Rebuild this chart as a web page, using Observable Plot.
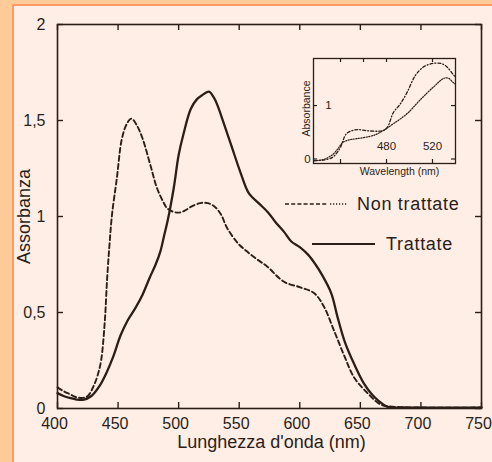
<!DOCTYPE html>
<html>
<head>
<meta charset="utf-8">
<script src="https://cdn.jsdelivr.net/npm/d3@7"></script>
<script src="https://cdn.jsdelivr.net/npm/@observablehq/plot@0.6"></script>
<style>
  html, body { margin: 0; padding: 0; }
  #root { position: relative; width: 492px; height: 462px; background: #FFCC99; overflow: hidden; font-family: "Liberation Sans", Arial, sans-serif; }
  #panel { position: absolute; left: 12px; top: 4px; right: 0; bottom: 0; background: #FFEEE6; border-left: 2.5px solid #FF9966; border-top: 2.5px solid #FF9966; }
  #main, #inset { position: absolute; }
  #main { left: 0; top: 0; }
  #inset { left: 280px; top: 40px; }
  g[aria-label="xlabel"] text { letter-spacing: 1.8px; }
  g[aria-label="ylabel"] text { letter-spacing: 2.1px; }
  g[aria-label="xticklabels"] text, g[aria-label="yticklabels"] text { letter-spacing: 0.4px; }
  g[aria-label="ixlabel"] text { letter-spacing: 1.4px; }
  g[aria-label="iylabel"] text { letter-spacing: 1.7px; }
  .leg { position: absolute; color: #2b1d17; font-size: 18px; letter-spacing: 0.7px; line-height: 1; white-space: nowrap; }
  #legsvg { position: absolute; left: 0; top: 0; }
</style>
</head>
<body>
<div id="root">
  <div id="panel"></div>
  <div id="main"></div>
  <div id="inset"></div>
  <svg id="legsvg" width="492" height="462">
    <line x1="285" y1="204" x2="328" y2="204" stroke="#2b1d17" stroke-width="1.4" stroke-dasharray="4,2.2"></line>
    <line x1="330" y1="204" x2="347" y2="204" stroke="#2b1d17" stroke-width="1.4" stroke-dasharray="1.2,1.8"></line>
    <line x1="312" y1="244" x2="375" y2="244" stroke="#2b1d17" stroke-width="1.8"></line>
  </svg>
  <div class="leg" style="left:357px; top:195px;">Non trattate</div>
  <div class="leg" style="left:386px; top:235px;">Trattate</div>
</div>
<script>
// ---- Main chart data ----
const xTicks = [400, 450, 500, 550, 600, 650, 700, 750];
const yTicks = [0, 0.5, 1, 1.5, 2];

const nonTrattateNm  = [400, 405, 410, 415, 420, 425, 430, 433, 436, 439, 441, 443, 445, 449, 453, 457, 461, 465, 470, 477, 482, 487, 491, 499, 505, 510, 518, 524, 530, 535, 540, 549, 556, 564, 573, 587, 601, 612, 620, 628, 637, 645, 656, 667, 680, 700, 750];
const nonTrattateAbs = [0.11, 0.09, 0.075, 0.06, 0.055, 0.065, 0.12, 0.17, 0.25, 0.45, 0.68, 0.86, 1.01, 1.20, 1.40, 1.48, 1.51, 1.48, 1.41, 1.26, 1.15, 1.08, 1.04, 1.02, 1.03, 1.05, 1.07, 1.07, 1.05, 1.01, 0.94, 0.86, 0.82, 0.78, 0.74, 0.66, 0.63, 0.60, 0.53, 0.41, 0.27, 0.16, 0.08, 0.02, 0.008, 0.005, 0.005];

const trattateNm  = [400, 405, 410, 415, 421, 428, 435, 440, 446, 452, 458, 464, 470, 476, 481, 485, 488, 491, 496, 500, 504, 510, 515, 519, 525, 529, 532, 537, 544, 551, 558, 566, 574, 580, 587, 593, 600, 607, 613, 618, 626, 631, 637, 645, 653, 660, 665, 672, 690, 750];
const trattateAbs = [0.08, 0.065, 0.055, 0.048, 0.045, 0.065, 0.12, 0.18, 0.27, 0.38, 0.46, 0.52, 0.59, 0.68, 0.75, 0.82, 0.90, 0.98, 1.15, 1.32, 1.43, 1.56, 1.61, 1.63, 1.65, 1.62, 1.58, 1.49, 1.36, 1.23, 1.12, 1.07, 1.02, 0.97, 0.92, 0.87, 0.84, 0.80, 0.75, 0.70, 0.60, 0.48, 0.35, 0.23, 0.13, 0.07, 0.04, 0.01, 0.005, 0.005];

// ---- Inset data ----
const insetTopTicks = [440, 460, 480, 520];
const insetBottomTicks = [440, 480, 520];
const insetXLabels = [480, 520];
const insetYTicks = [0, 1];

const insetANm  = [417, 425, 433, 437, 440, 445, 450, 455, 463, 473, 478, 481, 486, 492, 498, 505, 512, 517, 521, 527, 531, 534, 538, 540];
const insetAAbs = [-0.03, -0.02, 0.03, 0.12, 0.22, 0.47, 0.53, 0.55, 0.53, 0.52, 0.54, 0.60, 0.87, 1.03, 1.25, 1.56, 1.72, 1.77, 1.79, 1.79, 1.75, 1.69, 1.58, 1.53];

const insetBNm  = [417, 425, 433, 438, 442, 448, 454, 465, 472, 477, 486, 498, 509, 521, 530, 534, 538, 540];
const insetBAbs = [-0.03, -0.01, 0.08, 0.20, 0.31, 0.36, 0.38, 0.42, 0.47, 0.53, 0.66, 0.85, 1.10, 1.35, 1.51, 1.51, 1.43, 1.40];

const zip = (nm, ab) => nm.map((d, i) => ({nm: d, abs: ab[i]}));
const nonTrattate = zip(nonTrattateNm, nonTrattateAbs);
const trattate = zip(trattateNm, trattateAbs);
const insetA = zip(insetANm, insetAAbs);
const insetB = zip(insetBNm, insetBAbs);

const ink = "#2b1d17";
const font = "'Liberation Sans', Arial, sans-serif";
const comma = d => String(d).replace(".", ",");

const W = 492, H = 462, mL = 57, mR = 11, mT = 24, mB = 54;
const fw = W - mL - mR, fh = H - mT - mB;
const tl = 6;

const main = Plot.plot({
  width: W, height: H,
  marginLeft: mL, marginRight: mR, marginTop: mT, marginBottom: mB,
  x: {domain: [400, 750], axis: null},
  y: {domain: [0, 2], axis: null},
  style: {background: "transparent", fontFamily: font, color: ink, overflow: "visible"},
  marks: [
    Plot.tickX(xTicks, {x: d => d, insetTop: fh - tl, stroke: ink, strokeWidth: 1.4}),
    Plot.tickX(xTicks, {x: d => d, insetBottom: fh - tl, stroke: ink, strokeWidth: 1.4}),
    Plot.tickY(yTicks, {y: d => d, insetRight: fw - tl, stroke: ink, strokeWidth: 1.4}),
    Plot.tickY(yTicks, {y: d => d, insetLeft: fw - tl, stroke: ink, strokeWidth: 1.4}),
    Plot.line(nonTrattate, {x: "nm", y: "abs", stroke: ink, strokeWidth: 1.9, strokeDasharray: "5,3", curve: "catmull-rom"}),
    Plot.line(trattate, {x: "nm", y: "abs", stroke: ink, strokeWidth: 2.3, curve: "catmull-rom"}),
    Plot.frame({stroke: ink, strokeWidth: 1.6}),
    Plot.text(xTicks, {x: d => d, text: d => String(d), frameAnchor: "bottom", dy: 20, dx: -3, fontSize: 16, fill: ink, ariaLabel: "xticklabels"}),
    Plot.text(yTicks, {y: d => d, text: comma, frameAnchor: "left", dx: -12, textAnchor: "end", fontSize: 16, fill: ink, ariaLabel: "yticklabels"}),
    Plot.text(["Assorbanza"], {text: d => d, frameAnchor: "left", textAnchor: "middle", dx: -33, rotate: -90, fontSize: 18, fill: ink, ariaLabel: "ylabel"}),
    Plot.text(["Lunghezza d'onda (nm)"], {text: d => d, frameAnchor: "bottom", dy: 39, dx: 2, fontSize: 18, fill: ink, ariaLabel: "xlabel"})
  ]
});
document.getElementById("main").appendChild(main);

const iW = 200, iH = 150, imL = 33, imR = 25, imT = 18, imB = 27;
const ifw = iW - imL - imR, ifh = iH - imT - imB;
const itl = 4;
const inset = Plot.plot({
  width: iW, height: iH,
  marginLeft: imL, marginRight: imR, marginTop: imT, marginBottom: imB,
  x: {domain: [416.5, 540], axis: null},
  y: {domain: [-0.084, 1.88], axis: null},
  style: {background: "transparent", fontFamily: font, color: ink, overflow: "visible"},
  marks: [
    Plot.tickX(insetTopTicks, {x: d => d, insetBottom: ifh - itl, stroke: ink, strokeWidth: 1.2}),
    Plot.tickX(insetBottomTicks, {x: d => d, insetTop: ifh - itl, stroke: ink, strokeWidth: 1.2}),
    Plot.tickY(insetYTicks, {y: d => d, insetRight: ifw - itl, stroke: ink, strokeWidth: 1.2}),
    Plot.tickY(insetYTicks, {y: d => d, insetLeft: ifw - itl, stroke: ink, strokeWidth: 1.2}),
    Plot.line(insetA, {x: "nm", y: "abs", stroke: ink, strokeWidth: 1.3, strokeDasharray: "3,2,1,2", curve: "catmull-rom"}),
    Plot.line(insetB, {x: "nm", y: "abs", stroke: ink, strokeWidth: 1.2, strokeDasharray: "1.2,1.4", curve: "catmull-rom"}),
    Plot.frame({stroke: ink, strokeWidth: 1.3}),
    Plot.text(insetXLabels, {x: d => d, text: d => String(d), frameAnchor: "bottom", dy: -14, fontSize: 11.5, fill: ink}),
    Plot.text([0], {y: d => d, text: d => String(d), frameAnchor: "left", textAnchor: "middle", dx: -6, fontSize: 11.5, fill: ink}),
    Plot.text([1], {y: d => d, text: d => String(d), frameAnchor: "left", textAnchor: "middle", dx: 15, fontSize: 11.5, fill: ink}),
    Plot.text(["Absorbance"], {text: d => d, frameAnchor: "left", textAnchor: "middle", dx: -7, dy: -2.5, rotate: -90, fontSize: 10.5, fill: ink, ariaLabel: "iylabel"}),
    Plot.text(["Wavelength (nm)"], {text: d => d, frameAnchor: "bottom", dx: 15, dy: 11, fontSize: 10.5, fill: ink, ariaLabel: "ixlabel"})
  ]
});
document.getElementById("inset").appendChild(inset);
</script>
</body>
</html>
